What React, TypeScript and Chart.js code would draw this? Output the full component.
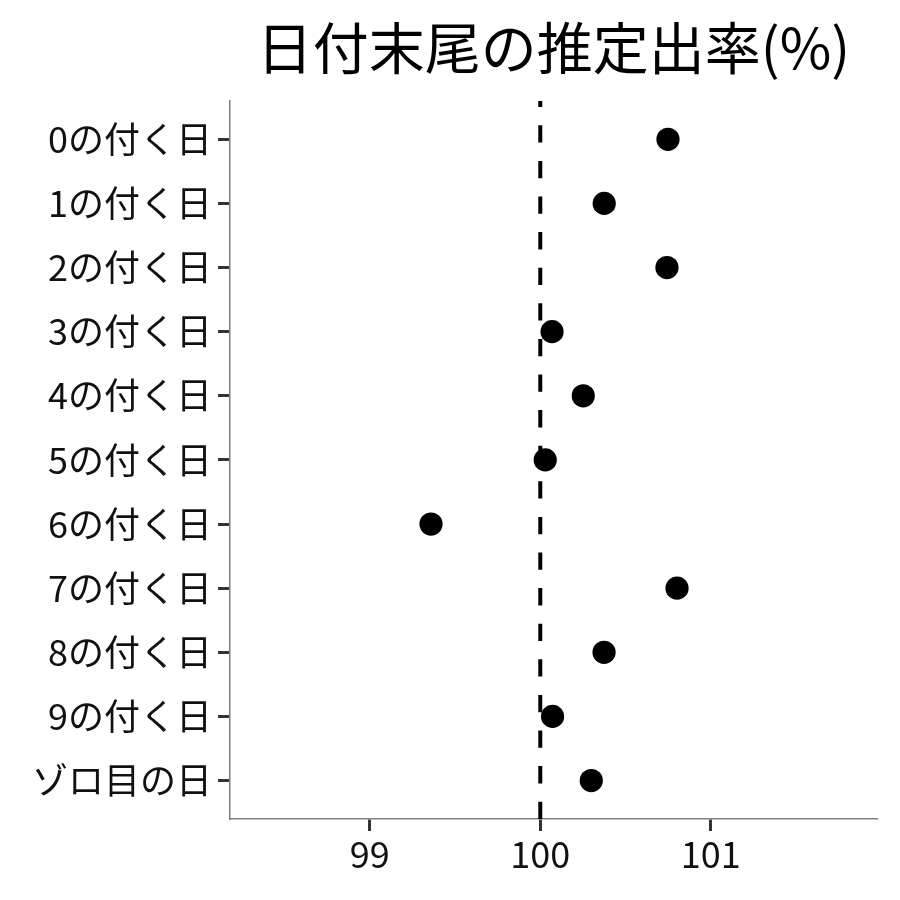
import React, { useEffect, useRef } from "react";
import { Chart, registerables } from "chart.js";

Chart.register(...registerables);

const TITLE = "日付末尾の推定出率(%)";
const CATEGORIES = [
  "0の付く日",
  "1の付く日",
  "2の付く日",
  "3の付く日",
  "4の付く日",
  "5の付く日",
  "6の付く日",
  "7の付く日",
  "8の付く日",
  "9の付く日",
  "ゾロ目の日",
];
const RATES = [100.749, 100.375, 100.743, 100.069, 100.252, 100.029, 99.359, 100.802, 100.374, 100.072, 100.299];
const X_TICKS = [99, 100, 101];
const REFERENCE = 100;
const X_MIN = 98.18;
const X_MAX = 101.975;

const FONT = "'Noto Sans CJK JP', 'Noto Sans', sans-serif";

export default function App() {
  const ref = useRef<HTMLCanvasElement | null>(null);

  useEffect(() => {
    if (!ref.current) return;
    const yMin = -0.6;
    const yMax = CATEGORIES.length - 1 + 0.6;
    const chart = new Chart(ref.current, {
      type: "scatter",
      data: {
        datasets: [
          {
            data: RATES.map((v, i) => ({ x: v, y: i })),
            backgroundColor: "#000",
            borderWidth: 0,
            pointRadius: 11.6,
            pointHoverRadius: 11.6,
            order: 0,
          },
          {
            type: "line",
            data: [
              { x: REFERENCE, y: yMax },
              { x: REFERENCE, y: yMin },
            ],
            borderColor: "#000",
            borderWidth: 4,
            borderDash: [17.3, 18.3],
            pointRadius: 0,
            showLine: true,
            fill: false,
            order: 1,
          } as any,
        ],
      },
      options: {
        responsive: false,
        animation: false,
        layout: { padding: { top: 0, right: 23, bottom: 0, left: 0 } },
        plugins: {
          legend: { display: false },
          tooltip: { enabled: false },
          title: {
            display: true,
            fullSize: false,
            text: TITLE,
            color: "#000",
            font: { family: FONT, size: 56, weight: "normal" as any, lineHeight: 1.2 },
            padding: { top: 14, bottom: 19.6 },
          },
        },
        scales: {
          x: {
            type: "linear",
            min: X_MIN,
            max: X_MAX,
            afterBuildTicks: (scale: any) => {
              scale.ticks = X_TICKS.map((v) => ({ value: v }));
            },
            afterFit: (scale: any) => {
              scale.height = 81;
            },
            grid: {
              display: true,
              drawOnChartArea: false,
              drawTicks: true,
              tickLength: 12,
              tickColor: "#333",
              tickWidth: 3,
            },
            border: { display: true, color: "#7f7f7f", width: 1.5 },
            ticks: {
              color: "#111",
              padding: 2,
              font: { family: FONT, size: 36 },
              callback: (v: any) => String(v),
            },
          },
          y: {
            type: "linear",
            reverse: true,
            min: yMin,
            max: yMax,
            afterBuildTicks: (scale: any) => {
              scale.ticks = CATEGORIES.map((_, i) => ({ value: i }));
            },
            afterFit: (scale: any) => {
              scale.width = 230;
            },
            grid: {
              display: true,
              drawOnChartArea: false,
              drawTicks: true,
              tickLength: 12,
              tickColor: "#333",
              tickWidth: 3,
            },
            border: { display: true, color: "#7f7f7f", width: 1.5 },
            ticks: {
              color: "#111",
              padding: 6,
              font: { family: FONT, size: 36 },
              callback: (v: any) => CATEGORIES[Math.round(Number(v))] ?? "",
            },
          },
        },
      },
    });
    return () => chart.destroy();
  }, []);

  return (
    <div style={{ position: "fixed", left: 0, top: 0, width: 900, height: 900, background: "#fff" }}>
      <canvas ref={ref} width={900} height={900} style={{ width: 900, height: 900, display: "block" }} />
    </div>
  );
}
